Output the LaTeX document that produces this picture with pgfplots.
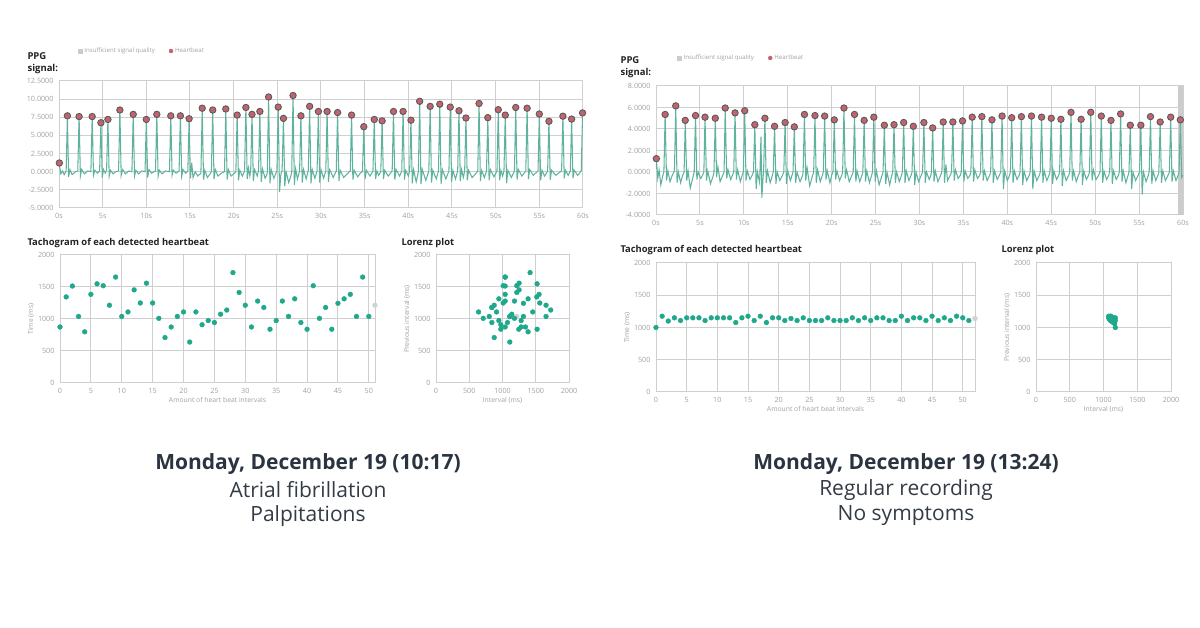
\documentclass[border=0pt]{standalone}
\usepackage{pgfplots}
\pgfplotsset{compat=1.18}
\usepackage{fontspec}
\setmainfont{Open Sans}
\definecolor{ppgline}{HTML}{5FB39E}
\definecolor{dotc}{HTML}{20A88A}
\definecolor{hbfill}{HTML}{C4636E}
\definecolor{hbdraw}{HTML}{5A5A5A}
\definecolor{gridc}{HTML}{CFCFCF}
\definecolor{tickc}{HTML}{A0A0A0}
\definecolor{capbold}{HTML}{2A3441}
\definecolor{capnorm}{HTML}{333B45}
\definecolor{titlec}{HTML}{222222}
\pgfplotsset{
  base/.style={scale only axis, anchor=south west, grid=major,
    grid style={gridc, line width=1pt},
    axis line style={gridc, line width=1pt},
    major tick length=0pt, tick style={draw=none},
    /pgf/number format/assume math mode=true,
    /pgf/number format/1000 sep={},
    ticklabel style={font=\fontsize{7.2}{8}\selectfont, text=tickc},
    label style={font=\fontsize{6.8}{7}\selectfont, text=tickc},
    xticklabel style={yshift=-2pt},
    yticklabel style={xshift=-2pt},
  },
  ppg/.style={base, xmin=0, xmax=60, xtick={0,5,...,60},
    xticklabels={0s,5s,10s,15s,20s,25s,30s,35s,40s,45s,50s,55s,60s},
    legend columns=2,
    legend style={draw=none, fill=none, font=\fontsize{6.1}{7}\selectfont, text=tickc,
      /tikz/every even column/.append style={column sep=12pt}, inner sep=0pt},
  },
  tacho/.style={base, ymin=0, ymax=2000, ytick={0,500,...,2000}, xmin=0, xtick={0,5,...,50},
    xlabel={Amount of heart beat intervals}, ylabel={Time (ms)}, clip=false,
    xlabel style={yshift=3pt}, ylabel style={yshift=-3pt}},
  lorenz/.style={base, xmin=0, xmax=2000, ymin=0, ymax=2000, xtick={0,500,...,2000}, ytick={0,500,...,2000},
    xlabel={Interval (ms)}, ylabel={Previous interval (ms)},
    xlabel style={yshift=3pt}, ylabel style={yshift=-3pt}},
  sig/.style={ppgline, line width=1.05pt, no marks},
  hb/.style={only marks, mark=*, mark size=3.2pt, mark options={fill=hbfill, draw=hbdraw, line width=0.9pt}},
  dots/.style={only marks, mark=*, mark size=2.4pt, mark options={fill=dotc, draw=dotc}},
  graydot/.style={only marks, mark=*, mark size=2.4pt, mark options={fill=gray!35, draw=gray!35}},
  legsq/.style={legend image code/.code={\fill[gray!40] (0pt,-2pt) rectangle (4pt,2pt);}},
  legdot/.style={legend image code/.code={\fill[hbfill] (2pt,0pt) circle (2pt);}},
}
\begin{document}
\begin{tikzpicture}[x=1pt,y=1pt]
\useasboundingbox (0,0) rectangle (1200,628);
% ---------------- LEFT PANEL ----------------
\node[anchor=west, font=\fontsize{9.5}{10}\bfseries\selectfont, text=titlec] at (24,572) {PPG};
\node[anchor=west, font=\fontsize{9.5}{10}\bfseries\selectfont, text=titlec] at (24,559) {signal:};
\begin{axis}[ppg, at={(59pt,420pt)}, width=524pt, height=127pt, ymin=-5, ymax=12.5,
  ytick={-5,-2.5,...,12.5},
  yticklabels={-5.0000,-2.5000,0.0000,2.5000,5.0000,7.5000,10.0000,12.5000},
  legend style={at={(0.036,1.236)}, anchor=west}]
\addlegendimage{legsq}\addlegendentry{Insufficient signal quality}
\addlegendimage{legdot}\addlegendentry{Heartbeat}
\addplot[sig] coordinates {
(0.0,0.6) (0.04,1.2) (0.2,-0.3) (0.4,0.1) (0.6,-0.4)
(0.82,0.1) (0.96,7.7) (1.1,-0.7) (1.25,0.3) (1.5,-0.4) (1.9,0.0)
(2.15,0.1) (2.3,7.6) (2.45,-0.6) (2.6,0.3) (2.9,-0.3) (3.3,0.1)
(3.65,0.0) (3.8,7.6) (3.95,-0.5) (4.1,0.2) (4.4,-0.2)
(4.65,0.1) (4.8,6.75) (4.95,-0.8) (5.1,0.3) (5.3,-0.2)
(5.45,0.2) (5.6,7.2) (5.75,-0.6) (5.9,0.2) (6.2,-0.3) (6.5,0.0)
(6.82,0.1) (6.97,8.5) (7.12,-0.5) (7.3,0.3) (7.6,-0.3) (8.0,0.1)
(8.35,0.0) (8.5,7.9) (8.65,-0.6) (8.8,0.2) (9.1,-0.3) (9.5,0.1)
(9.85,0.0) (10.0,7.2) (10.15,-0.8) (10.3,0.3) (10.6,-0.2)
(11.05,0.1) (11.2,7.9) (11.35,-0.6) (11.5,0.2) (11.8,-0.3) (12.2,0.1)
(12.65,0.0) (12.8,7.7) (12.95,-0.5) (13.1,0.2) (13.4,-0.2)
(13.75,0.1) (13.9,7.7) (14.05,-0.6) (14.2,0.3) (14.5,-0.2)
(14.75,0.1) (14.9,7.3) (15.05,-0.9) (15.2,1.2) (15.35,-0.8) (15.6,0.0) (15.9,-0.6)
(16.25,-0.2) (16.4,8.75) (16.55,-1.1) (16.7,0.2) (17.0,-0.8) (17.3,-0.3)
(17.45,0.0) (17.6,8.5) (17.75,-1.0) (17.9,0.3) (18.2,-0.6) (18.6,-0.2)
(18.95,0.0) (19.1,8.65) (19.25,-1.1) (19.4,0.3) (19.7,-0.6) (20.0,-0.3)
(20.25,0.0) (20.4,7.8) (20.55,-1.2) (20.7,0.2) (21.0,-0.6)
(21.25,0.1) (21.4,8.85) (21.55,-1.0) (21.7,0.5) (21.85,-0.6)
(21.95,0.2) (22.1,7.9) (22.25,-1.3) (22.4,0.3) (22.7,-0.6)
(22.85,0.2) (23.0,8.3) (23.15,-1.4) (23.3,0.4) (23.6,-0.9) (23.8,-0.4)
(23.85,0.0) (24.0,10.3) (24.15,-1.6) (24.3,0.3) (24.6,-0.9)
(24.95,0.1) (25.1,8.9) (25.25,-2.8) (25.4,-0.4)
(25.55,0.2) (25.7,7.35) (25.85,-2.0) (26.0,0.0) (26.3,-1.5) (26.55,-0.6)
(26.65,0.0) (26.8,10.5) (26.95,-1.8) (27.1,0.4) (27.3,-1.0)
(27.55,0.1) (27.7,7.7) (27.85,-1.5) (28.0,0.3) (28.3,-1.0)
(28.55,0.2) (28.7,9.0) (28.85,-1.6) (29.0,0.3) (29.3,-0.9)
(29.55,0.1) (29.7,8.3) (29.85,-1.5) (30.0,0.3) (30.3,-0.9)
(30.55,0.1) (30.7,8.3) (30.85,-1.4) (31.0,0.3) (31.4,-0.8)
(31.75,0.1) (31.9,8.15) (32.05,-1.3) (32.2,0.2) (32.6,-0.8) (33.0,-0.3)
(33.35,0.1) (33.5,7.8) (33.65,-1.1) (33.8,0.2) (34.2,-0.7) (34.5,-0.2)
(34.75,0.0) (34.9,6.2) (35.05,-1.0) (35.2,0.2) (35.6,-0.6)
(35.95,0.1) (36.1,7.2) (36.25,-1.0) (36.4,0.1) (36.6,-0.5)
(36.85,0.0) (37.0,7.0) (37.15,-1.0) (37.3,0.2) (37.7,-0.6)
(38.15,0.1) (38.3,8.3) (38.45,-1.1) (38.6,0.3) (39.0,-0.6)
(39.25,0.1) (39.4,8.3) (39.55,-1.1) (39.7,0.2) (40.0,-0.6)
(40.15,0.1) (40.3,7.1) (40.45,-1.6) (40.6,0.3) (40.9,-1.4)
(41.15,0.0) (41.3,9.7) (41.45,-1.7) (41.6,0.3) (42.0,-1.2)
(42.35,0.1) (42.5,9.0) (42.65,-1.5) (42.8,0.2) (43.2,-1.0)
(43.45,0.1) (43.6,9.3) (43.75,-1.7) (43.9,0.3) (44.3,-1.0)
(44.65,0.1) (44.8,8.9) (44.95,-1.4) (45.1,0.2) (45.4,-1.0)
(45.65,0.1) (45.8,8.4) (45.95,-1.3) (46.1,0.3) (46.3,-0.8)
(46.45,0.1) (46.6,7.4) (46.75,-1.2) (46.9,0.2) (47.3,-0.8) (47.7,-0.3)
(47.95,0.1) (48.1,9.4) (48.25,-1.3) (48.4,0.2) (48.7,-0.8)
(48.95,0.1) (49.1,7.45) (49.25,-1.2) (49.4,0.3) (49.8,-0.7)
(50.15,0.1) (50.3,8.55) (50.45,-1.2) (50.6,0.2) (50.8,-0.6)
(50.95,0.1) (51.1,7.8) (51.25,-1.6) (51.4,0.2) (51.8,-0.8)
(52.15,0.1) (52.3,8.85) (52.45,-1.1) (52.6,0.3) (53.0,-0.6)
(53.45,0.1) (53.6,8.75) (53.75,-1.0) (53.9,0.3) (54.3,-0.5)
(54.85,0.1) (55.0,7.95) (55.15,-1.2) (55.3,0.2) (55.6,-0.6)
(55.95,0.1) (56.1,6.95) (56.25,-1.1) (56.4,0.2) (56.9,-0.5) (57.3,-0.1)
(57.55,0.1) (57.7,7.65) (57.85,-0.9) (58.0,0.2) (58.3,-0.5)
(58.55,0.1) (58.7,7.25) (58.85,-0.9) (59.0,0.2) (59.4,-0.5)
(59.8,0.1) (59.95,8.1) (60.0,7.0)
};
\addplot[hb] coordinates {
(0.04,1.2) (0.96,7.7) (2.3,7.6) (3.8,7.6) (4.8,6.75) (5.6,7.2) (6.97,8.5) (8.5,7.9)
(10.0,7.2) (11.2,7.9) (12.8,7.7) (13.9,7.7) (14.9,7.3) (16.4,8.75) (17.6,8.5) (19.1,8.65)
(20.4,7.8) (21.4,8.85) (22.1,7.9) (23.0,8.3) (24.0,10.3) (25.1,8.9) (25.7,7.35) (26.8,10.5)
(27.7,7.7) (28.7,9.0) (29.7,8.3) (30.7,8.3) (31.9,8.15) (33.5,7.8) (34.9,6.2) (36.1,7.2)
(37.0,7.0) (38.3,8.3) (39.4,8.3) (40.3,7.1) (41.3,9.7) (42.5,9.0) (43.6,9.3) (44.8,8.9)
(45.8,8.4) (46.6,7.4) (48.1,9.4) (49.1,7.45) (50.3,8.55) (51.1,7.8) (52.3,8.85) (53.6,8.75)
(55.0,7.95) (56.1,6.95) (57.7,7.65) (58.7,7.25) (59.95,8.1)
};
\end{axis}
\node[anchor=west, font=\fontsize{9.4}{10}\bfseries\selectfont, text=titlec] at (24,385) {Tachogram of each detected heartbeat};
\begin{axis}[tacho, at={(60pt,245pt)}, width=315pt, height=128pt, xmax=51]
\addplot[dots] coordinates {
(0,875) (1,1345) (2,1515) (3,1040) (4,800) (5,1385) (6,1550) (7,1520) (8,1215) (9,1655)
(10,1040) (11,1110) (12,1455) (13,1250) (14,1560) (15,1250) (16,1010) (17,710) (18,875) (19,1040)
(20,1110) (21,640) (22,1110) (23,910) (24,975) (25,945) (26,1075) (27,1140) (28,1725) (29,1415)
(30,1215) (31,875) (32,1280) (33,1180) (34,840) (35,975) (36,1280) (37,1040) (38,1315) (39,945)
(40,840) (41,1520) (42,1010) (43,1180) (44,840) (45,1245) (46,1315) (47,1385) (48,1040) (49,1655)
(50,1040)
};
\addplot[graydot] coordinates {(51,1215)};
\end{axis}
\node[anchor=west, font=\fontsize{9.4}{10}\bfseries\selectfont, text=titlec] at (398,385) {Lorenz plot};
\begin{axis}[lorenz, at={(436pt,245pt)}, width=133pt, height=128pt]
\addplot[graydot] coordinates {(1215,1040)};
\addplot[dots] coordinates {
(1345,875) (1515,1345) (1040,1515) (800,1040) (1385,800) (1550,1385) (1520,1550) (1215,1520)
(1655,1215) (1040,1655) (1110,1040) (1455,1110) (1250,1455) (1560,1250) (1250,1560) (1010,1250)
(710,1010) (875,710) (1040,875) (1110,1040) (640,1110) (1110,640) (910,1110) (975,910)
(945,975) (1075,945) (1140,1075) (1725,1140) (1415,1725) (1215,1415) (875,1215) (1280,875)
(1180,1280) (840,1180) (975,840) (1280,975) (1040,1280) (1315,1040) (945,1315) (840,945)
(1520,840) (1010,1520) (1180,1010) (840,1180) (1245,840) (1315,1245) (1385,1315) (1040,1385)
(1655,1040) (1040,1655)
};
\end{axis}
% ---------------- RIGHT PANEL ----------------
\node[anchor=west, font=\fontsize{9.5}{10}\bfseries\selectfont, text=titlec] at (617,568) {PPG};
\node[anchor=west, font=\fontsize{9.5}{10}\bfseries\selectfont, text=titlec] at (617,555) {signal:};
\begin{axis}[ppg, at={(656pt,413pt)}, width=527pt, height=129pt, ymin=-4, ymax=8,
  ytick={-4,-2,...,8},
  yticklabels={-4.0000,-2.0000,0.0000,2.0000,4.0000,6.0000,8.0000},
  legend style={at={(0.04,1.217)}, anchor=west}]
\addlegendimage{legsq}\addlegendentry{Insufficient signal quality}
\addlegendimage{legdot}\addlegendentry{Heartbeat}
\addplot[fill=gray!40, draw=none, forget plot] coordinates {(59.45,-4) (60,-4) (60,8) (59.45,8)} -- cycle;
\addplot[sig] coordinates {
(0.0,0.3) (0.04,1.24) (0.2,-0.6) (0.35,0.2) (0.55,-1.2) (0.75,-0.4)
(0.9,0.0) (1.04,5.35) (1.2,-0.8) (1.35,0.1) (1.6,-0.9) (1.85,-0.3)
(2.1,0.1) (2.25,6.15) (2.4,-1.0) (2.55,0.0) (2.8,-1.0) (3.0,-0.4)
(3.2,0.0) (3.33,4.8) (3.5,-0.8) (3.65,0.1) (3.9,-1.5) (4.2,-0.5)
(4.35,0.0) (4.5,5.25) (4.65,-0.7) (4.8,0.0) (5.1,-0.6) (5.3,-0.3)
(5.45,0.0) (5.58,5.1) (5.75,-0.8) (5.9,0.1) (6.2,-1.1) (6.5,-0.4)
(6.6,0.0) (6.75,5.0) (6.9,-0.5) (7.05,0.5) (7.3,-0.9) (7.6,-0.3)
(7.75,0.0) (7.88,5.95) (8.05,-0.6) (8.2,0.2) (8.5,-0.7) (8.7,-0.3)
(8.85,0.0) (9.0,5.5) (9.15,-0.7) (9.3,0.2) (9.6,-0.9) (9.85,-0.2)
(9.95,0.0) (10.1,5.7) (10.25,-0.8) (10.4,0.1) (10.7,-0.7) (10.95,-0.3)
(11.1,0.0) (11.25,4.4) (11.4,-1.6) (11.55,0.0) (11.8,-1.0) (11.95,3.3) (12.05,-2.4) (12.2,-0.4)
(12.25,0.0) (12.4,5.0) (12.55,-1.0) (12.7,0.1) (13.0,-1.0) (13.25,-0.3)
(13.35,0.0) (13.5,4.25) (13.65,-1.1) (13.8,0.0) (14.1,-0.8) (14.4,-0.3)
(14.55,0.0) (14.7,4.6) (14.85,-1.1) (15.0,0.1) (15.3,-0.8)
(15.6,0.0) (15.75,4.2) (15.9,-1.0) (16.05,0.0) (16.4,-0.9) (16.7,-0.3)
(16.75,0.0) (16.9,5.35) (17.05,-0.8) (17.2,0.4) (17.5,-1.3) (17.8,-0.4)
(17.95,0.0) (18.1,5.25) (18.25,-1.0) (18.4,0.2) (18.7,-0.9) (18.95,-0.3)
(19.05,0.0) (19.2,5.2) (19.35,-0.7) (19.5,0.1) (19.8,-1.0) (20.0,-0.3)
(20.15,0.0) (20.3,4.85) (20.45,-0.7) (20.6,0.1) (20.9,-0.8) (21.15,-0.3)
(21.25,0.0) (21.4,5.95) (21.55,-0.6) (21.7,0.2) (22.0,-0.9) (22.3,-0.3)
(22.45,0.0) (22.6,5.35) (22.75,-0.9) (22.9,0.1) (23.2,-0.9) (23.45,-0.3)
(23.55,0.0) (23.7,4.8) (23.85,-0.9) (24.0,0.1) (24.3,-1.0) (24.55,-0.3)
(24.65,0.0) (24.8,5.1) (24.95,-0.9) (25.1,0.1) (25.4,-1.2) (25.7,-0.4)
(25.85,0.0) (26.0,4.35) (26.15,-1.1) (26.3,0.0) (26.6,-1.2) (26.85,-0.3)
(26.95,0.0) (27.1,4.4) (27.25,-1.0) (27.4,0.0) (27.7,-0.9) (27.95,-0.3)
(28.05,0.0) (28.2,4.6) (28.35,-1.0) (28.5,0.1) (28.8,-0.8) (29.05,-0.3)
(29.15,0.0) (29.3,4.25) (29.45,-1.2) (29.6,0.0) (29.9,-0.9) (30.2,-0.3)
(30.35,0.0) (30.5,4.6) (30.65,-1.0) (30.8,0.0) (31.1,-0.7) (31.3,-0.3)
(31.35,0.0) (31.5,4.1) (31.65,-0.9) (31.8,0.1) (32.1,-0.9) (32.4,-0.3)
(32.55,0.0) (32.7,4.65) (32.85,-1.0) (33.0,0.7) (33.2,-0.8) (33.5,-0.3)
(33.65,0.0) (33.8,4.65) (33.95,-0.8) (34.1,0.2) (34.4,-0.6) (34.65,-0.3)
(34.75,0.0) (34.9,4.75) (35.05,-0.9) (35.2,0.1) (35.5,-0.6) (35.75,-0.3)
(35.85,0.0) (36.0,5.1) (36.15,-0.9) (36.3,0.2) (36.6,-0.6) (36.85,-0.3)
(36.95,0.0) (37.1,5.15) (37.25,-0.8) (37.4,0.1) (37.7,-0.8) (38.0,-0.3)
(38.1,0.0) (38.25,4.85) (38.4,-1.0) (38.55,0.1) (38.85,-0.7) (39.1,-0.3)
(39.25,0.0) (39.4,5.2) (39.55,-1.6) (39.7,0.1) (40.0,-0.8) (40.25,-0.3)
(40.35,0.0) (40.5,5.05) (40.65,-1.0) (40.8,0.1) (41.1,-0.7) (41.35,-0.3)
(41.45,0.0) (41.6,5.15) (41.75,-1.2) (41.9,0.1) (42.2,-0.8) (42.5,-0.3)
(42.6,0.0) (42.75,5.2) (42.9,-1.6) (43.05,0.1) (43.35,-0.8) (43.65,-0.3)
(43.75,0.0) (43.9,5.1) (44.05,-1.0) (44.2,0.1) (44.5,-0.8) (44.75,-0.3)
(44.85,0.0) (45.0,5.0) (45.15,-1.1) (45.3,0.1) (45.6,-0.7) (45.85,-0.3)
(45.95,0.0) (46.1,4.9) (46.25,-1.3) (46.4,0.1) (46.7,-0.8) (47.0,-0.3)
(47.1,0.0) (47.25,5.55) (47.4,-0.8) (47.55,0.1) (47.85,-0.9) (48.1,-0.3)
(48.25,0.0) (48.4,4.9) (48.55,-1.2) (48.7,0.1) (49.0,-0.7) (49.25,-0.3)
(49.35,0.0) (49.5,5.55) (49.65,-0.8) (49.8,0.2) (50.1,-0.7) (50.4,-0.3)
(50.55,0.0) (50.7,5.2) (50.85,-1.0) (51.0,0.1) (51.3,-0.7) (51.55,-0.3)
(51.65,0.0) (51.8,4.8) (51.95,-1.1) (52.1,0.1) (52.4,-0.7) (52.65,-0.3)
(52.75,0.0) (52.9,5.4) (53.05,-0.9) (53.2,0.1) (53.5,-1.0) (53.75,-0.3)
(53.85,0.0) (54.0,4.35) (54.15,-1.6) (54.3,0.0) (54.6,-0.8) (54.9,-0.3)
(55.05,0.0) (55.2,4.35) (55.35,-2.1) (55.5,0.0) (55.8,-0.9) (56.05,-0.3)
(56.15,0.0) (56.3,5.15) (56.45,-1.1) (56.6,0.1) (56.9,-0.8) (57.15,-0.3)
(57.25,0.0) (57.4,4.65) (57.55,-1.0) (57.7,0.1) (58.0,-0.8) (58.3,-0.3)
(58.45,0.0) (58.6,5.1) (58.75,-0.9) (58.9,0.1) (59.2,-0.8) (59.45,-0.3)
(59.55,0.0) (59.7,4.85) (59.85,-0.5) (60.0,-0.3)
};
\addplot[hb] coordinates {
(0.04,1.24) (1.04,5.35) (2.25,6.15) (3.33,4.8) (4.5,5.25) (5.58,5.1) (6.75,5.0) (7.88,5.95)
(9.0,5.5) (10.1,5.7) (11.25,4.4) (12.4,5.0) (13.5,4.25) (14.7,4.6) (15.75,4.2) (16.9,5.35)
(18.1,5.25) (19.2,5.2) (20.3,4.85) (21.4,5.95) (22.6,5.35) (23.7,4.8) (24.8,5.1) (26.0,4.35)
(27.1,4.4) (28.2,4.6) (29.3,4.25) (30.5,4.6) (31.5,4.1) (32.7,4.65) (33.8,4.65) (34.9,4.75)
(36.0,5.1) (37.1,5.15) (38.25,4.85) (39.4,5.2) (40.5,5.05) (41.6,5.15) (42.75,5.2) (43.9,5.1)
(45.0,5.0) (46.1,4.9) (47.25,5.55) (48.4,4.9) (49.5,5.55) (50.7,5.2) (51.8,4.8) (52.9,5.4)
(54.0,4.35) (55.2,4.35) (56.3,5.15) (57.4,4.65) (58.6,5.1) (59.7,4.85)
};
\end{axis}
\node[anchor=west, font=\fontsize{9.4}{10}\bfseries\selectfont, text=titlec] at (617,378) {Tachogram of each detected heartbeat};
\begin{axis}[tacho, at={(656pt,236pt)}, width=319pt, height=129pt, xmax=52]
\addplot[dots] coordinates {
(0,1000) (1,1175) (2,1100) (3,1150) (4,1108) (5,1150) (6,1150) (7,1150) (8,1108) (9,1150)
(10,1150) (11,1150) (12,1150) (13,1077) (14,1150) (15,1175) (16,1108) (17,1175) (18,1077) (19,1150)
(20,1150) (21,1108) (22,1140) (23,1108) (24,1150) (25,1108) (26,1108) (27,1108) (28,1150) (29,1108)
(30,1108) (31,1108) (32,1150) (33,1108) (34,1150) (35,1108) (36,1150) (37,1150) (38,1108) (39,1108)
(40,1175) (41,1108) (42,1150) (43,1150) (44,1108) (45,1175) (46,1108) (47,1150) (48,1108) (49,1175)
(50,1150) (51,1108)
};
\addplot[graydot] coordinates {(52,1140)};
\end{axis}
\node[anchor=west, font=\fontsize{9.4}{10}\bfseries\selectfont, text=titlec] at (998,378) {Lorenz plot};
\begin{axis}[lorenz, at={(1036pt,236pt)}, width=135pt, height=129pt]
\addplot[dots] coordinates {
(1175,1000) (1100,1175) (1150,1100) (1108,1150) (1150,1108) (1150,1150) (1077,1150) (1150,1077)
(1175,1150) (1108,1175) (1175,1108) (1077,1175) (1140,1108) (1108,1140) (1108,1108)
(1085,1130) (1130,1085) (1160,1120) (1120,1160) (1125,1125) (1140,1140) (1100,1110) (1165,1060)
(1090,1160) (1160,1090)
};
\end{axis}
% ---------------- CAPTIONS ----------------
\node[font=\fontsize{21}{24}\bfseries\selectfont, text=capbold] at (308,164) {Monday, December 19 (10:17)};
\node[font=\fontsize{21}{24}\selectfont, text=capnorm] at (308,138) {Atrial fibrillation};
\node[font=\fontsize{21}{24}\selectfont, text=capnorm] at (308,112) {Palpitations};
\node[font=\fontsize{21}{24}\bfseries\selectfont, text=capbold] at (906,164) {Monday, December 19 (13:24)};
\node[font=\fontsize{21}{24}\selectfont, text=capnorm] at (906,138) {Regular recording};
\node[font=\fontsize{21}{24}\selectfont, text=capnorm] at (906,112) {No symptoms};
\end{tikzpicture}
\end{document}
